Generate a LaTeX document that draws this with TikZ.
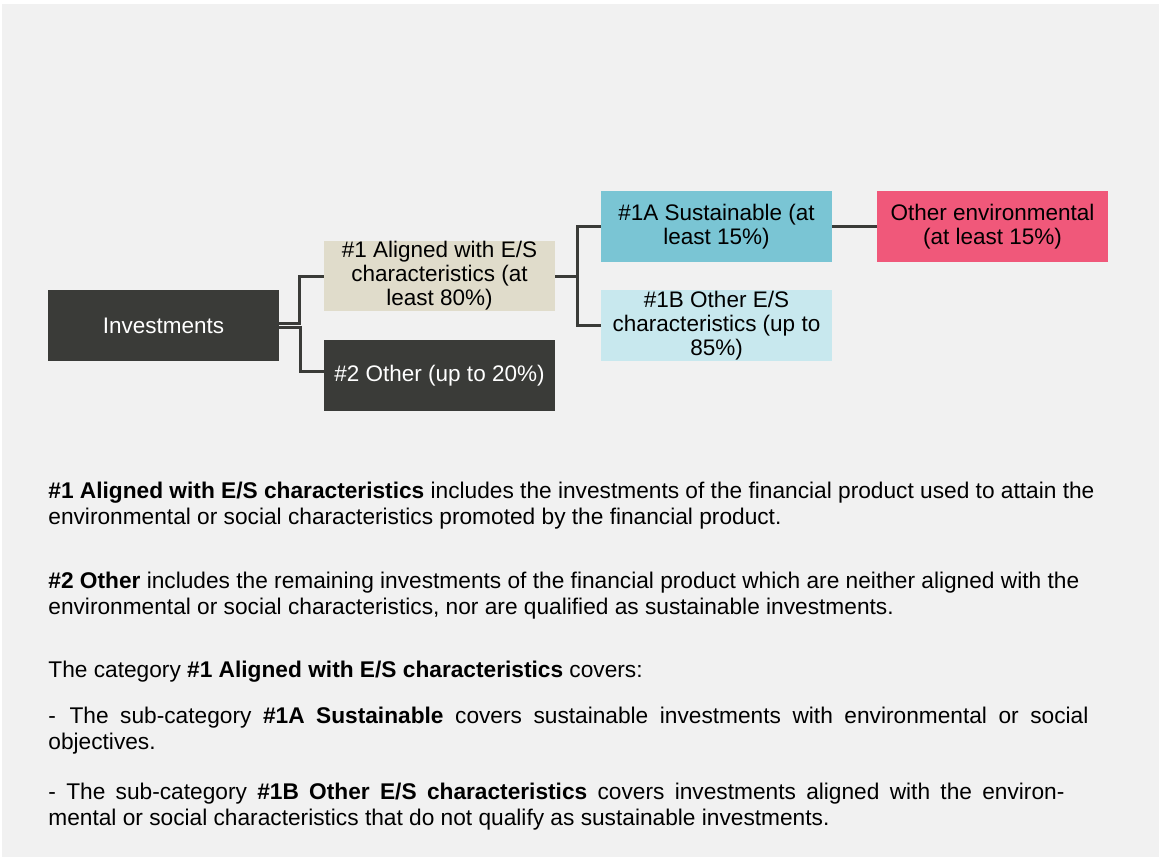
\documentclass[tikz,border=0pt]{standalone}
\usepackage{fontspec}
\setmainfont{Liberation Sans}
\usetikzlibrary{positioning}
\definecolor{bggray}{RGB}{241,241,241}
\definecolor{boxdark}{RGB}{58,59,56}
\definecolor{boxbeige}{RGB}{224,220,203}
\definecolor{boxteal}{RGB}{122,197,212}
\definecolor{boxlight}{RGB}{200,232,238}
\definecolor{boxpink}{RGB}{240,88,122}

\begin{document}
\begin{tikzpicture}[x=0.5pt,y=-0.5pt,
  box/.style={minimum width=115.5pt,minimum height=35.25pt,inner sep=0pt,
    align=center,font=\fontsize{11.25}{12}\selectfont},
  darkbox/.style={box,fill=boxdark,text=white},
  conn/.style={draw=boxdark,line width=1.5pt},
  para/.style={anchor=base west,align=left,inner sep=0pt,
    font=\fontsize{11.35}{13}\selectfont}]
  \useasboundingbox (0,0) rectangle (1159,863);
  \fill[bggray] (2,4) rectangle (1159,857);

  % tree
  \node[darkbox] (inv) at (163.5,325.5) {Investments};
  \node[box,fill=boxbeige] (al1) at (439.5,276) {\#1 Aligned with E/S\\ characteristics (at\\ least 80\%)};
  \node[darkbox] (oth2) at (439.5,375.5) {\#2 Other (up to 20\%)};
  \node[box,fill=boxteal] (sus1a) at (716.5,226.5) {\#1A Sustainable (at\\ least 15\%)};
  \node[box,fill=boxlight] (oth1b) at (716.5,325.5) {\#1B Other E/S\\ characteristics (up to\\ 85\%)};
  \node[box,fill=boxpink] (env) at (992.5,226.5) {Other environmental\\ (at least 15\%)};

  \draw[conn] ([yshift=1.2pt]inv.east) -- ++(20,0) |- (al1.west);
  \draw[conn] ([yshift=-1.2pt]inv.east) -- ++(21,0) |- ([yshift=2pt]oth2.west);
  \draw[conn] (al1.east) -- ++(22,0) |- (sus1a.west);
  \draw[conn] (al1.east) -- ++(22,0) |- (oth1b.west);
  \draw[conn] (sus1a) -- (env);

  % notes (placed at the baseline of the last line)
  \node[para] (p1) at (48,524) {\textbf{\#1 Aligned with E/S characteristics} includes the investments of the financial product used to attain the\\
    environmental or social characteristics promoted by the financial product.};
  \node[para] (p2) at (48,614) {\textbf{\#2 Other} includes the remaining investments of the financial product which are neither aligned with the\\
    environmental or social characteristics, nor are qualified as sustainable investments.};
  \node[para] (p3) at (48,677) {The category \textbf{\#1 Aligned with E/S characteristics} covers:};
  \node[para] (p4) at (48,749) {\hbox to 520pt{-\hspace*{0.6em}The sub-category \textbf{\#1A Sustainable} covers sustainable investments with environmental or social}\\
    objectives.};
  \node[para] (p5) at (48,825) {\hbox to 508pt{- The sub-category \textbf{\#1B Other E/S characteristics} covers investments aligned with the environ-}\\
    mental or social characteristics that do not qualify as sustainable investments.};
\end{tikzpicture}
\end{document}
